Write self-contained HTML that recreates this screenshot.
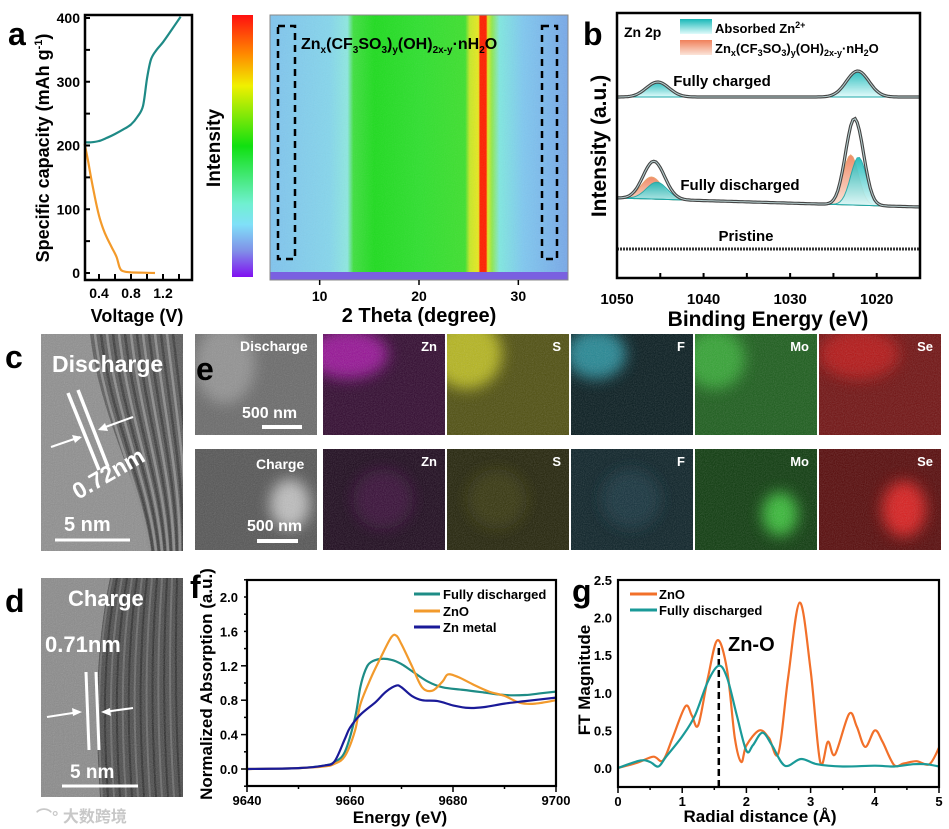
<!DOCTYPE html>
<html><head><meta charset="utf-8"><style>
html,body{margin:0;padding:0;background:#fff;}
svg{display:block;font-family:"Liberation Sans","Noto Sans CJK SC",sans-serif;font-weight:bold;}
</style></head><body>
<svg id="fig" xmlns="http://www.w3.org/2000/svg" width="949" height="829" viewBox="0 0 949 829">
<defs>
<filter id="noise" x="0" y="0" width="100%" height="100%"><feTurbulence type="fractalNoise" baseFrequency="0.9" numOctaves="2" seed="3"/><feColorMatrix type="saturate" values="0"/></filter>
<filter id="blur2" x="-50%" y="-50%" width="200%" height="200%"><feGaussianBlur stdDeviation="7"/></filter>
<linearGradient id="cbar" x1="0" y1="0" x2="0" y2="1">
<stop offset="0" stop-color="#ff1010"/><stop offset="0.15" stop-color="#ff8a00"/><stop offset="0.27" stop-color="#f0f000"/><stop offset="0.5" stop-color="#10e010"/><stop offset="0.72" stop-color="#70f0d0"/><stop offset="0.8" stop-color="#80e0f8"/><stop offset="0.9" stop-color="#8090e8"/><stop offset="1" stop-color="#8010f0"/></linearGradient>
<linearGradient id="heat" x1="0" y1="0" x2="1" y2="0">
<stop offset="0" stop-color="#80c4ee"/><stop offset="0.2" stop-color="#86d6ec"/><stop offset="0.26" stop-color="#8ee8e0"/><stop offset="0.28" stop-color="#40e040"/><stop offset="0.35" stop-color="#20dc20"/><stop offset="0.5" stop-color="#30e030"/><stop offset="0.655" stop-color="#40e030"/><stop offset="0.67" stop-color="#c8e828"/><stop offset="0.7" stop-color="#e8e820"/><stop offset="0.705" stop-color="#ff2000"/><stop offset="0.725" stop-color="#ff2000"/><stop offset="0.73" stop-color="#e0e820"/><stop offset="0.745" stop-color="#90e850"/><stop offset="0.77" stop-color="#80e8e0"/><stop offset="0.85" stop-color="#80c8f0"/><stop offset="1" stop-color="#78a8e8"/></linearGradient>
<linearGradient id="tealfill" x1="0" y1="0" x2="0" y2="1"><stop offset="0" stop-color="#18b8b8"/><stop offset="1" stop-color="#e0fbfb"/></linearGradient>
<linearGradient id="orfill" x1="0" y1="0" x2="0" y2="1"><stop offset="0" stop-color="#f0805a"/><stop offset="1" stop-color="#fbe4d8"/></linearGradient>
<clipPath id="clipc"><rect x="41" y="334" width="142" height="217"/></clipPath>
<clipPath id="clipd"><rect x="41" y="578" width="142" height="219"/></clipPath>
</defs>
<g id="root"></g>
</svg>
<script>
// ---------- DATA ----------
const aChargeV=[0.22,0.3,0.4,0.5,0.6,0.7,0.8,0.88,0.95,1.0,1.05,1.12,1.2,1.3,1.42];
const aChargeC=[205,205,207,212,218,225,233,245,262,305,335,350,362,380,402];
const aDisV=[0.22,0.26,0.3,0.35,0.4,0.45,0.5,0.56,0.62,0.66,0.7,0.8,0.95,1.1];
const aDisC=[203,178,150,118,90,70,55,40,25,8,3,1,0.5,0];
const aXTicks=[0.4,0.8,1.2];
const aYTicks=[0,100,200,300,400];

const hXTicks=[10,20,30];

const bXTicks=[1050,1040,1030,1020];
const bChargedCenters=[1045.3,1022.2];
const bChargedHeights=[15,26];
const bChargedWidths=[1.3,1.3];
const bDisAbsCenters=[1045.4,1022.1];
const bDisAbsHeights=[17,48];
const bDisSaltCenters=[1046.0,1023.0];
const bDisSaltHeights=[22,50];
const bDisWidths=[1.2,0.9];

const fE=[9640,9650,9655,9657,9659,9661,9662,9663,9664,9666,9668,9670,9672,9675,9678,9682,9686,9690,9694,9697,9700];
const fDis=[0,0.01,0.04,0.08,0.2,0.6,0.95,1.15,1.24,1.28,1.27,1.22,1.14,1.02,0.95,0.92,0.89,0.86,0.86,0.88,0.9];
const fZnOE=[9640,9650,9655,9657,9659,9661,9662,9664,9666,9668,9669,9670,9672,9674,9676,9678,9679,9681,9684,9687,9690,9693,9696,9700];
const fZnO=[0,0.01,0.03,0.06,0.15,0.45,0.75,1.05,1.3,1.53,1.55,1.45,1.2,0.95,0.91,1.02,1.1,1.07,0.98,0.9,0.85,0.77,0.76,0.8];
const fZnE=[9640,9650,9655,9657,9659,9660,9662,9665,9667,9669,9670,9672,9674,9677,9680,9683,9686,9690,9694,9700];
const fZn=[0,0.01,0.04,0.09,0.35,0.48,0.63,0.78,0.9,0.97,0.95,0.85,0.8,0.79,0.74,0.71,0.72,0.76,0.79,0.83];
const fXTicks=[9640,9660,9680,9700];
const fYTicks=[0.0,0.4,0.8,1.2,1.6,2.0];

const gZnOR=[0,0.3,0.55,0.7,0.85,1.05,1.15,1.25,1.4,1.55,1.7,1.82,1.92,2.0,2.2,2.35,2.5,2.65,2.83,3.0,3.15,3.27,3.38,3.6,3.72,3.85,4.0,4.12,4.3,4.45,4.65,4.85,5.0];
const gZnO=[0,0.07,0.15,0.1,0.4,0.82,0.7,0.57,1.2,1.7,1.3,0.4,0.08,0.3,0.5,0.4,0.2,1.2,2.2,1.3,0.08,0.35,0.18,0.72,0.55,0.28,0.5,0.35,0.04,0.06,0.09,0.05,0.27];
const gDisR=[0,0.35,0.5,0.63,0.75,1.0,1.2,1.4,1.57,1.7,1.85,2.0,2.1,2.25,2.4,2.6,2.85,3.1,3.5,4.0,4.3,4.6,4.8,5.0];
const gDis=[0,0.1,0.08,0.02,0.15,0.42,0.7,1.15,1.36,1.2,0.7,0.23,0.3,0.47,0.3,0.03,0.12,0.05,0.02,0.03,0.02,0.05,0.05,0.02];
const gXTicks=[0,1,2,3,4,5];
const gYTicks=[0.0,0.5,1.0,1.5,2.0,2.5];
const gZnOPeak=1.57;

// ---------- HELPERS ----------
const NS="http://www.w3.org/2000/svg";
const root=document.getElementById('root');
const defs=document.querySelector('defs');
function mk(tag,attrs,parent,text){const e=document.createElementNS(NS,tag);for(const k in attrs)e.setAttribute(k,attrs[k]);if(text!==undefined)e.textContent=text;(parent||root).appendChild(e);return e;}
function lin(d0,d1,r0,r1){return v=>r0+(v-d0)*(r1-r0)/(d1-d0);}
function smooth(pts){let d='M'+pts[0][0].toFixed(1)+','+pts[0][1].toFixed(1);for(let i=0;i<pts.length-1;i++){const p0=pts[i-1]||pts[i],p1=pts[i],p2=pts[i+1],p3=pts[i+2]||p2;const c1=[p1[0]+(p2[0]-p0[0])/6,p1[1]+(p2[1]-p0[1])/6],c2=[p2[0]-(p3[0]-p1[0])/6,p2[1]-(p3[1]-p1[1])/6];d+='C'+c1[0].toFixed(1)+','+c1[1].toFixed(1)+' '+c2[0].toFixed(1)+','+c2[1].toFixed(1)+' '+p2[0].toFixed(1)+','+p2[1].toFixed(1);}return d;}
function label(x,y,t,size,opts,name){const e=mk('text',Object.assign({x:x,y:y,'font-size':size},opts||{}),null,t);return e;}

// ---------- PANEL LETTERS ----------
[['a',8,45],['b',583,45],['c',5,368],['d',5,612],['f',190,598],['g',572,602]].forEach(p=>{
 label(p[1],p[2],p[0],32,{},'panel-label-'+p[0]);
});

// ---------- PANEL A ----------
(function(){
 const g=mk('g',{});
 const x=lin(0.4,1.2,99,163),y=lin(0,400,273,18);
 const c1=mk('path',{d:smooth(aChargeV.map((v,i)=>[x(v),y(aChargeC[i])])),fill:'none',stroke:'#1e8a86','stroke-width':2.2},g);
 
 const c2=mk('path',{d:smooth(aDisV.map((v,i)=>[x(v),y(aDisC[i])])),fill:'none',stroke:'#f39a2a','stroke-width':2.2},g);
 
 const fr=mk('rect',{x:85,y:15,width:107,height:265,fill:'none',stroke:'#000','stroke-width':2.5},g);
 
 for(let v=0.4;v<=1.41;v+=0.2){mk('line',{x1:x(v),x2:x(v),y1:280,y2:274,stroke:'#000','stroke-width':2},g);}
 for(let c=0;c<=400;c+=50){mk('line',{x1:85,x2:90,y1:y(c),y2:y(c),stroke:'#000','stroke-width':2},g);}
 aXTicks.forEach(v=>{const t=mk('text',{x:x(v),y:298,'font-size':14,'text-anchor':'middle'},g,v.toFixed(1));});
 aYTicks.forEach(v=>{const t=mk('text',{x:80,y:y(v)+5,'font-size':14,'text-anchor':'end'},g,String(v));});
 const xl=mk('text',{x:137,y:322,'font-size':18,'text-anchor':'middle'},g,'Voltage (V)');
 const yl=mk('text',{x:0,y:0,'font-size':18,'text-anchor':'middle',transform:'translate(49,148) rotate(-90)'},g);
 yl.innerHTML='Specific capacity (mAh g<tspan dy="-7" font-size="11">-1</tspan><tspan dy="7">)</tspan>';
 
})();

// ---------- HEATMAP ----------
(function(){
 const g=mk('g',{});
 const cb=mk('rect',{x:232,y:15,width:21,height:262,fill:'url(#cbar)'},g);
 const il=mk('text',{x:0,y:0,'font-size':19,'text-anchor':'middle',transform:'translate(220,148) rotate(-90)'},g,'Intensity');
 const x=lin(5,35,270,568);
 const hm=mk('rect',{x:270,y:15,width:298,height:258,fill:'url(#heat)'},g);
 mk('rect',{x:270,y:15,width:298,height:258,fill:'#fff',opacity:0.12,filter:'url(#noise)'},g);
 const ps=mk('rect',{x:270,y:272,width:298,height:8,fill:'#7a60e0'},g);
 mk('rect',{x:270,y:15,width:298,height:265,fill:'none',stroke:'#888','stroke-width':1},g);
 const b1=mk('rect',{x:278,y:26,width:17,height:233,fill:'none',stroke:'#000','stroke-width':2.5,'stroke-dasharray':'7,5'},g);
 const b2=mk('rect',{x:542,y:26,width:15,height:233,fill:'none',stroke:'#000','stroke-width':2.5,'stroke-dasharray':'7,5'},g);
 const ft=mk('text',{x:301,y:49,'font-size':16},g);
 ft.innerHTML='Zn<tspan dy="4" font-size="10">x</tspan><tspan dy="-4">(CF</tspan><tspan dy="4" font-size="10">3</tspan><tspan dy="-4">SO</tspan><tspan dy="4" font-size="10">3</tspan><tspan dy="-4">)</tspan><tspan dy="4" font-size="10">y</tspan><tspan dy="-4">(OH)</tspan><tspan dy="4" font-size="10">2x-y</tspan><tspan dy="-4">·nH</tspan><tspan dy="4" font-size="10">2</tspan><tspan dy="-4">O</tspan>';
 
 hXTicks.forEach(v=>{mk('line',{x1:x(v),x2:x(v),y1:280,y2:285,stroke:'#000','stroke-width':1.5},g);const t=mk('text',{x:x(v),y:301,'font-size':14,'text-anchor':'middle'},g,String(v));});
 const xl=mk('text',{x:419,y:322,'font-size':20,'text-anchor':'middle'},g,'2 Theta (degree)');
})();

// ---------- PANEL B ----------
(function(){
 const g=mk('g',{});
 const x=lin(1050,1015,617,920);
 const gauss=(e,c,h,w)=>h*Math.exp(-((e-c)*(e-c))/(2*w*w));
 const es=[];for(let e=1050;e>=1015;e-=0.25)es.push(e);
 const baseC=97, baseD=e=>198+(1050-e)*9/35, baseP=249;
 function area(base,c,h,w,fill,name){const top=es.map(e=>[x(e),base(e)-gauss(e,c,h,w)]);const d='M'+top.map(p=>p[0].toFixed(1)+','+p[1].toFixed(1)).join('L')+'L'+x(1015)+','+base(1015)+'L'+x(1050)+','+base(1050)+'Z';const p=mk('path',{d:d,fill:fill,stroke:fill==='url(#tealfill)'?'#1aa8a8':'#e89a60','stroke-width':1,opacity:0.9},g);}
 bChargedCenters.forEach((c,i)=>area(()=>baseC,c,bChargedHeights[i],bChargedWidths[i],'url(#tealfill)','charged-absorbed-peak'));
 bDisSaltCenters.forEach((c,i)=>area(baseD,c,bDisSaltHeights[i],bDisWidths[i],'url(#orfill)','discharged-salt-peak'));
 bDisAbsCenters.forEach((c,i)=>area(baseD,c,bDisAbsHeights[i],bDisWidths[i],'url(#tealfill)','discharged-absorbed-peak'));
 const tc=es.map(e=>[x(e),baseC-bChargedCenters.reduce((s,c,i)=>s+gauss(e,c,bChargedHeights[i],bChargedWidths[i]),0)]);
 const td=es.map(e=>[x(e),baseD(e)-bDisSaltCenters.reduce((s,c,i)=>s+gauss(e,c,bDisSaltHeights[i],bDisWidths[i]),0)-bDisAbsCenters.reduce((s,c,i)=>s+gauss(e,c,bDisAbsHeights[i],bDisWidths[i]),0)]);
 [[tc,'charged-data'],[td,'discharged-data']].forEach(a=>{const d='M'+a[0].map(p=>p[0].toFixed(1)+','+p[1].toFixed(1)).join('L');const p=mk('path',{d:d,fill:'none',stroke:'#444','stroke-width':3.2},g);mk('path',{d:d,fill:'none',stroke:'#b8d0d0','stroke-width':1},g);});
 const pr=mk('line',{x1:617,x2:920,y1:baseP,y2:baseP,stroke:'#333','stroke-width':3,'stroke-dasharray':'2,1'},g);
 const fr=mk('rect',{x:617,y:13,width:303,height:265,fill:'none',stroke:'#000','stroke-width':2.5},g);
 for(let e=1050;e>=1015;e-=5){mk('line',{x1:x(e),x2:x(e),y1:278,y2:273,stroke:'#000','stroke-width':2},g);}
 bXTicks.forEach(v=>{const t=mk('text',{x:x(v),y:304,'font-size':15,'text-anchor':'middle'},g,String(v));});
 const xl=mk('text',{x:768,y:326,'font-size':21,'text-anchor':'middle'},g,'Binding Energy (eV)');
 const yl=mk('text',{x:0,y:0,'font-size':21,'text-anchor':'middle',transform:'translate(606,146) rotate(-90)'},g,'Intensity (a.u.)');
 const zp=mk('text',{x:624,y:37,'font-size':14},g,'Zn 2p');
 const l1=mk('rect',{x:680,y:19,width:32,height:15,fill:'url(#tealfill)'},g);
 const l2=mk('rect',{x:680,y:40,width:32,height:15,fill:'url(#orfill)'},g);
 const t1=mk('text',{x:715,y:33,'font-size':13},g);t1.innerHTML='Absorbed Zn<tspan dy="-5" font-size="9">2+</tspan>';
 const t2=mk('text',{x:715,y:53,'font-size':13},g);t2.innerHTML='Zn<tspan dy="3" font-size="9">x</tspan><tspan dy="-3">(CF</tspan><tspan dy="3" font-size="9">3</tspan><tspan dy="-3">SO</tspan><tspan dy="3" font-size="9">3</tspan><tspan dy="-3">)</tspan><tspan dy="3" font-size="9">y</tspan><tspan dy="-3">(OH)</tspan><tspan dy="3" font-size="9">2x-y</tspan><tspan dy="-3">·nH</tspan><tspan dy="3" font-size="9">2</tspan><tspan dy="-3">O</tspan>';
 [['Fully charged',722,86,'label-fully-charged'],['Fully discharged',740,190,'label-fully-discharged'],['Pristine',746,241,'label-pristine']].forEach(a=>{const t=mk('text',{x:a[1],y:a[2],'font-size':15,'text-anchor':'middle'},g,a[0]);});
})();

// ---------- TEM C ----------
(function(){
 const g=mk('g',{'clip-path':'url(#clipc)'});
 mk('rect',{x:41,y:334,width:142,height:217,fill:'#8e8e8e'},g);
 mk('path',{d:'M90,334 C100,420 140,480 150,551 L183,551 L183,334Z',fill:'#5a5a5a'},g);
 for(let i=0;i<14;i++){mk('path',{d:`M${95+i*6},334 C${105+i*6},420 ${140+i*4},480 ${150+i*3},551`,fill:'none',stroke:i%2?'#3a3a3a':'#8a8a8a','stroke-width':2.5},g);}
 mk('rect',{x:41,y:334,width:142,height:217,fill:'#fff',opacity:0.3,filter:'url(#noise)'},g);
 mk('line',{x1:68,y1:393,x2:99,y2:470,stroke:'#fff','stroke-width':3.5},g);
 mk('line',{x1:78,y1:390,x2:108,y2:467,stroke:'#fff','stroke-width':3.5},g);
 mk('line',{x1:51,y1:447,x2:80,y2:437,stroke:'#fff','stroke-width':2},g);mk('path',{d:'M82,437 L72,435 L75,443Z',fill:'#fff'},g);
 mk('line',{x1:133,y1:417,x2:100,y2:429,stroke:'#fff','stroke-width':2},g);mk('path',{d:'M98,430 L108,431 L105,423Z',fill:'#fff'},g);
 label(52,372,'Discharge',23,{fill:'#fff'},'tem-label-discharge');
 label(0,0,'0.72nm',23,{fill:'#fff',transform:'translate(78,500) rotate(-30)'},'lattice-spacing-label');
 mk('line',{x1:55,y1:540,x2:130,y2:540,stroke:'#fff','stroke-width':3},g);
 label(64,531,'5 nm',20,{fill:'#fff'},'scale-bar-label');
})();
// ---------- TEM D ----------
(function(){
 const g=mk('g',{'clip-path':'url(#clipd)'});
 mk('rect',{x:41,y:578,width:142,height:219,fill:'#8a8a8a'},g);
 mk('path',{d:'M110,578 C95,650 95,720 100,797 L183,797 L183,578Z',fill:'#4a4a4a'},g);
 for(let i=0;i<14;i++){mk('path',{d:`M${112+i*5},578 C${97+i*6},650 ${97+i*6},720 ${102+i*6},797`,fill:'none',stroke:i%2?'#2e2e2e':'#6a6a6a','stroke-width':2},g);}
 mk('rect',{x:41,y:578,width:142,height:219,fill:'#fff',opacity:0.3,filter:'url(#noise)'},g);
 mk('line',{x1:86,y1:672,x2:89,y2:750,stroke:'#fff','stroke-width':3},g);
 mk('line',{x1:96,y1:672,x2:99,y2:750,stroke:'#fff','stroke-width':3},g);
 mk('line',{x1:47,y1:717,x2:79,y2:712,stroke:'#fff','stroke-width':2},g);mk('path',{d:'M82,712 L72,708 L73,716Z',fill:'#fff'},g);
 mk('line',{x1:133,y1:708,x2:104,y2:712,stroke:'#fff','stroke-width':2},g);mk('path',{d:'M101,712 L111,716 L110,708Z',fill:'#fff'},g);
 mk('line',{x1:62,y1:786,x2:138,y2:786,stroke:'#fff','stroke-width':3},g);
})();
label(68,606,'Charge',22,{fill:'#fff'},'tem-label-charge');
label(45,652,'0.71nm',22,{fill:'#fff'},'lattice-spacing-label-d');
label(70,778,'5 nm',19,{fill:'#fff'},'scale-bar-label-d');
label(36,822,'⌒° 大数跨境',16,{fill:'#c8c8c8'},'watermark');

// ---------- EDS GRID ----------
(function(){
 const cols=[195,323,447,571,695,819];
 const rows=[334,449];const w=122,h=101;
 const base=[['#6a6a6a','#30082e','#4e4e0e','#061a1e','#1a5c1a','#701010'],['#555555','#1c081c','#222208','#0a2026','#0c3a0c','#560808']];
 // glow: colour, relative x, relative y, rx, ry
 const glow=[[['#9a9a9a',30,30,30,40],['#a818a8',25,20,40,25],['#c8c820',20,20,35,35],['#2a9aa8',25,20,30,25],['#38b038',20,25,30,30],['#c01818',40,20,40,25]],[['#d0d0d0',95,55,20,25],['#3a0c3a',60,50,30,30],['#383810',50,50,30,30],['#123440',60,50,30,30],['#40d040',85,65,18,22],['#f02020',85,60,22,28]]];
 const names=['sem','zn-map','s-map','f-map','mo-map','se-map'];
 const els=['','Zn','S','F','Mo','Se'];
 rows.forEach((ry,r)=>{cols.forEach((cx,c)=>{
  const cid='clipe'+r+c;
  const cp=mk('clipPath',{id:cid},defs);mk('rect',{x:cx,y:ry,width:w,height:h},cp);
  const g=mk('g',{'clip-path':'url(#'+cid+')'});
  mk('rect',{x:cx,y:ry,width:w,height:h,fill:base[r][c]},g);
  const gl=glow[r][c];mk('ellipse',{cx:cx+gl[1],cy:ry+gl[2],rx:gl[3],ry:gl[4],fill:gl[0],opacity:0.85,filter:'url(#blur2)'},g);
  mk('rect',{x:cx,y:ry,width:w,height:h,fill:'#000',opacity:0.25,filter:'url(#noise)'},g);
  if(els[c]){const t=mk('text',{x:cx+w-8,y:ry+17,'font-size':13,'text-anchor':'end',fill:'#fff'},g,els[c]);}
 });});
 label(240,351,'Discharge',14,{fill:'#fff'},'sem-label-discharge');
 label(242,418,'500 nm',16,{fill:'#fff'},'sem-scale-label');
 mk('line',{x1:262,y1:427,x2:302,y2:427,stroke:'#fff','stroke-width':4});
 label(256,469,'Charge',14,{fill:'#fff'},'sem-label-charge');
 label(247,531,'500 nm',16,{fill:'#fff'},'sem-scale-label-2');
 mk('line',{x1:257,y1:541,x2:298,y2:541,stroke:'#fff','stroke-width':4});
 label(196,380,'e',32,{},'panel-label-e');
})();

// ---------- PANEL F ----------
(function(){
 const g=mk('g',{});
 const x=lin(9640,9700,247,556),y=lin(0,2,769,597);
 [[fE,fDis,'#1e8c86','series-fully-discharged'],[fZnOE,fZnO,'#f29a2c','series-zno'],[fZnE,fZn,'#1a1a98','series-zn-metal']].forEach(s=>{const p=mk('path',{d:smooth(s[0].map((e,i)=>[x(e),y(s[1][i])])),fill:'none',stroke:s[2],'stroke-width':2.2},g);});
 const fr=mk('rect',{x:247,y:580,width:309,height:206,fill:'none',stroke:'#000','stroke-width':2.2},g);
 for(let e=9640;e<=9700;e+=10){mk('line',{x1:x(e),x2:x(e),y1:786,y2:e%20===0?792:789,stroke:'#000','stroke-width':1.5},g);}
 for(let v=-0.2;v<=2.21;v+=0.2){mk('line',{x1:247,x2:Math.abs((v*10)%4)<0.01?241:244,y1:y(v),y2:y(v),stroke:'#000','stroke-width':1.5},g);}
 fXTicks.forEach(v=>{const t=mk('text',{x:x(v),y:805,'font-size':13,'text-anchor':'middle'},g,String(v));});
 fYTicks.forEach(v=>{const t=mk('text',{x:238,y:y(v)+5,'font-size':13,'text-anchor':'end'},g,v.toFixed(1));});
 const xl=mk('text',{x:400,y:823,'font-size':17,'text-anchor':'middle'},g,'Energy (eV)');
 const yl=mk('text',{x:0,y:0,'font-size':17,'text-anchor':'middle',transform:'translate(212,684) rotate(-90)'},g,'Normalized Absorption (a.u.)');
 [['Fully discharged','#1e8c86',594],['ZnO','#f29a2c',611],['Zn metal','#1a1a98',627]].forEach(l=>{const li=mk('line',{x1:414,x2:440,y1:l[2],y2:l[2],stroke:l[1],'stroke-width':3},g);const t=mk('text',{x:443,y:l[2]+5,'font-size':13},g,l[0]);});
})();

// ---------- PANEL G ----------
(function(){
 const g=mk('g',{});
 const x=lin(0,5,618,939),y=lin(0,2.5,768,580);
 const dl=mk('line',{x1:x(gZnOPeak),x2:x(gZnOPeak),y1:787,y2:y(1.63),stroke:'#000','stroke-width':2.5,'stroke-dasharray':'7,4'},g);
 [[gZnOR,gZnO,'#f2702a','series-zno'],[gDisR,gDis,'#1a9a98','series-fully-discharged']].forEach(s=>{const p=mk('path',{d:smooth(s[0].map((r,i)=>[x(r),y(s[1][i])])),fill:'none',stroke:s[2],'stroke-width':2.2},g);});
 const fr=mk('rect',{x:618,y:580,width:321,height:207,fill:'none',stroke:'#000','stroke-width':2.2},g);
 for(let r=0;r<=5;r+=0.5){mk('line',{x1:x(r),x2:x(r),y1:787,y2:r%1===0?793:790,stroke:'#000','stroke-width':1.5},g);}
 gXTicks.forEach(v=>{const t=mk('text',{x:x(v),y:806,'font-size':13,'text-anchor':'middle'},g,String(v));});
 gYTicks.forEach(v=>{const t=mk('text',{x:612,y:y(v)+5,'font-size':13,'text-anchor':'end'},g,v.toFixed(1));});
 const xl=mk('text',{x:760,y:822,'font-size':17,'text-anchor':'middle'},g,'Radial distance (Å)');
 const yl=mk('text',{x:0,y:0,'font-size':17,'text-anchor':'middle',transform:'translate(590,680) rotate(-90)'},g,'FT Magnitude');
 [['ZnO','#f2702a',594],['Fully discharged','#1a9a98',610]].forEach(l=>{const li=mk('line',{x1:630,x2:657,y1:l[2],y2:l[2],stroke:l[1],'stroke-width':3},g);const t=mk('text',{x:659,y:l[2]+5,'font-size':13},g,l[0]);});
 const zl=mk('text',{x:728,y:651,'font-size':20},g,'Zn-O');
})();
</script>
</body></html>
